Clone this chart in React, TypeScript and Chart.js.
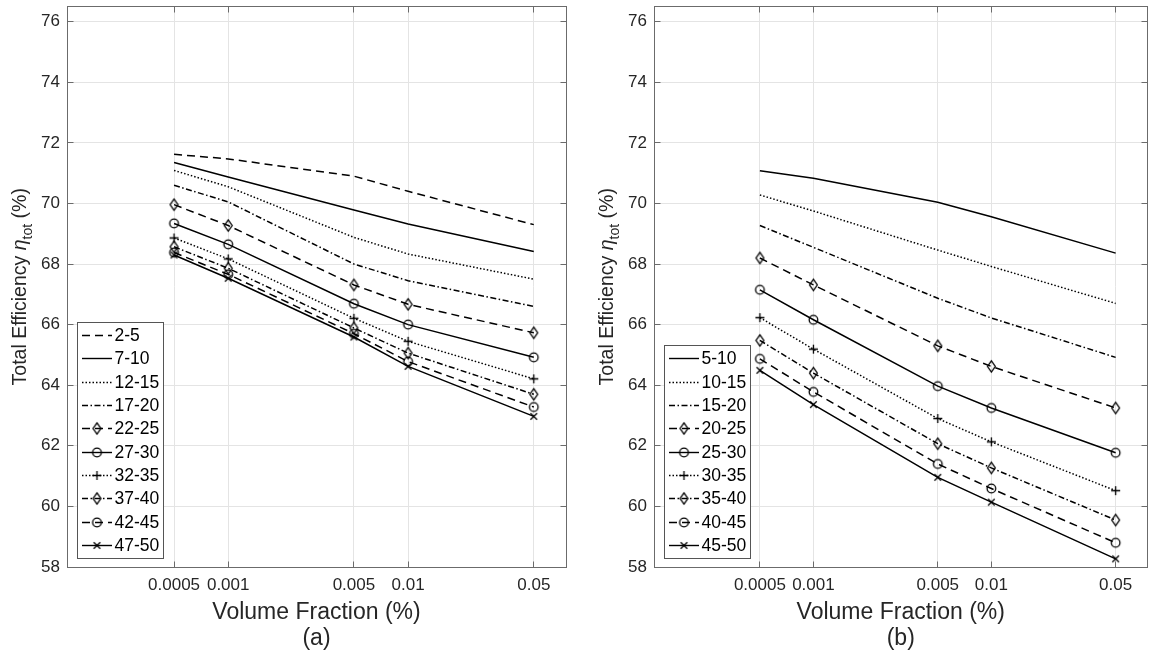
import React, { useEffect, useRef } from 'react';
import { Chart, registerables } from 'chart.js';

Chart.register(...registerables);

// ---------- data ----------
const volumeFraction = [0.0005, 0.001, 0.005, 0.01, 0.05];
const xTickValues = [0.0005, 0.001, 0.005, 0.01, 0.05];
const xTickLabels = ['0.0005', '0.001', '0.005', '0.01', '0.05'];
const yTickValues = [58, 60, 62, 64, 66, 68, 70, 72, 74, 76];

// Panel (a)
const labelsA = ['2-5', '7-10', '12-15', '17-20', '22-25', '27-30', '32-35', '37-40', '42-45', '47-50'];
const effA_2_5 = [71.62, 71.47, 70.9, 70.4, 69.3];
const effA_7_10 = [71.35, 70.87, 69.78, 69.32, 68.41];
const effA_12_15 = [71.09, 70.55, 68.88, 68.33, 67.5];
const effA_17_20 = [70.6, 70.05, 68.0, 67.45, 66.6];
const effA_22_25 = [69.96, 69.27, 67.31, 66.67, 65.73];
const effA_27_30 = [69.34, 68.65, 66.69, 66.0, 64.92];
const effA_32_35 = [68.86, 68.17, 66.21, 65.45, 64.21];
const effA_37_40 = [68.57, 67.86, 65.89, 65.06, 63.7];
const effA_42_45 = [68.38, 67.66, 65.7, 64.78, 63.28];
const effA_47_50 = [68.3, 67.53, 65.59, 64.62, 62.97];
const seriesA = [effA_2_5, effA_7_10, effA_12_15, effA_17_20, effA_22_25, effA_27_30, effA_32_35, effA_37_40, effA_42_45, effA_47_50];

// Panel (b)
const labelsB = ['5-10', '10-15', '15-20', '20-25', '25-30', '30-35', '35-40', '40-45', '45-50'];
const effB_5_10 = [71.08, 70.83, 70.04, 69.56, 68.36];
const effB_10_15 = [70.28, 69.75, 68.46, 67.92, 66.7];
const effB_15_20 = [69.27, 68.55, 66.87, 66.22, 64.92];
const effB_20_25 = [68.2, 67.31, 65.3, 64.62, 63.25];
const effB_25_30 = [67.15, 66.16, 63.97, 63.25, 61.77];
const effB_30_35 = [66.23, 65.19, 62.9, 62.13, 60.52];
const effB_35_40 = [65.48, 64.4, 62.07, 61.27, 59.55];
const effB_40_45 = [64.87, 63.78, 61.4, 60.59, 58.8];
const effB_45_50 = [64.49, 63.36, 60.96, 60.14, 58.27];
const seriesB = [effB_5_10, effB_10_15, effB_15_20, effB_20_25, effB_25_30, effB_30_35, effB_35_40, effB_40_45, effB_45_50];

// ---------- styles ----------
const FAMILY = '"Liberation Sans", Arial, Helvetica, sans-serif';
const TEXT = '#262626';
const FRAME = '#6b6b6b';
const GRID = '#e4e4e4';
const H = 659;
const PLOT_TOP = 6;
const PLOT_BOTTOM = 567;
const X_MIN = 0.000127;
const X_MAX = 0.0755;

const lineDash: Record<string, number[]> = {
  dash: [8, 5],
  solid: [],
  dot: [1.5, 2],
  dashdot: [6, 2.5, 1.5, 2.5],
};

type Style = [string, string | null];
const stylesA: Style[] = [
  ['dash', null], ['solid', null], ['dot', null], ['dashdot', null],
  ['dash', 'diamond'], ['solid', 'circle'], ['dot', 'plus'], ['dashdot', 'diamond'],
  ['dash', 'circle'], ['solid', 'x'],
];
const stylesB: Style[] = stylesA.slice(1);

function buildMarkers(): Record<string, HTMLCanvasElement> {
  const mk = (w: number, h: number, draw: (c: CanvasRenderingContext2D, cx: number, cy: number) => void) => {
    const cv = document.createElement('canvas');
    cv.width = w; cv.height = h;
    const c = cv.getContext('2d')!;
    c.strokeStyle = '#000';
    c.lineWidth = 1.3;
    c.beginPath();
    draw(c, w / 2, h / 2);
    c.stroke();
    return cv;
  };
  return {
    diamond: mk(11, 15, (c, cx, cy) => {
      c.moveTo(cx, cy - 5.6); c.lineTo(cx + 3.9, cy); c.lineTo(cx, cy + 5.6); c.lineTo(cx - 3.9, cy); c.closePath();
    }),
    circle: mk(13, 13, (c, cx, cy) => { c.arc(cx, cy, 4.3, 0, Math.PI * 2); }),
    plus: mk(13, 13, (c, cx, cy) => {
      c.moveTo(cx - 4.5, cy); c.lineTo(cx + 4.5, cy); c.moveTo(cx, cy - 4.5); c.lineTo(cx, cy + 4.5);
    }),
    x: mk(11, 11, (c, cx, cy) => {
      c.moveTo(cx - 3.3, cy - 3.3); c.lineTo(cx + 3.3, cy + 3.3); c.moveTo(cx + 3.3, cy - 3.3); c.lineTo(cx - 3.3, cy + 3.3);
    }),
  };
}

const align = (p: number) => Math.round(p - 0.5) + 0.5;

interface PanelProps {
  labels: string[];
  series: number[][];
  styles: Style[];
  caption: string;
  left: number;
  width: number;
  plotLeft: number;
  plotRight: number;
}

function Panel(props: PanelProps) {
  const ref = useRef<HTMLCanvasElement>(null);
  useEffect(() => {
    const canvas = ref.current!;
    const markers = buildMarkers();
    const datasets = props.series.map((ys, i) => {
      const [lk, mkName] = props.styles[i];
      return {
        label: props.labels[i],
        data: volumeFraction.map((x, j) => ({ x, y: ys[j] })),
        borderColor: '#000',
        borderWidth: 1.5,
        borderDash: lineDash[lk],
        pointStyle: mkName ? markers[mkName] : 'circle',
        pointRadius: mkName ? 5 : 0,
        backgroundColor: 'rgba(0,0,0,0)',
        tension: 0,
        fill: false,
      };
    });

    const decor = {
      id: 'decor',
      afterDraw(chart: any) {
        const ctx: CanvasRenderingContext2D = chart.ctx;
        const { left, right, top, bottom } = chart.chartArea;
        const xs = chart.scales.x;
        const ys = chart.scales.y;
        ctx.save();
        // frame + inward ticks on all sides
        ctx.setLineDash([]);
        ctx.strokeStyle = FRAME;
        ctx.lineWidth = 1;
        const L = align(left), R = align(right), T = align(top), B = align(bottom);
        ctx.strokeRect(L, T, R - L, B - T);
        ctx.beginPath();
        for (const v of xTickValues) {
          const px = align(xs.getPixelForValue(v));
          ctx.moveTo(px, B); ctx.lineTo(px, B - 6);
          ctx.moveTo(px, T); ctx.lineTo(px, T + 6);
        }
        for (const v of yTickValues) {
          const py = align(ys.getPixelForValue(v));
          ctx.moveTo(L, py); ctx.lineTo(L + 6, py);
          ctx.moveTo(R, py); ctx.lineTo(R - 6, py);
        }
        ctx.stroke();

        // legend
        const n = props.labels.length;
        const rowH = 23.3;
        const boxH = n * rowH + 3;
        const boxL = Math.round(left) + 10;
        const boxW = 86;
        const boxB = Math.round(bottom) - 9;
        const boxT = boxB - boxH;
        ctx.fillStyle = '#fff';
        ctx.fillRect(boxL, boxT, boxW, boxH);
        ctx.strokeStyle = '#555';
        ctx.strokeRect(boxL + 0.5, Math.round(boxT) + 0.5, boxW, Math.round(boxH));
        ctx.font = `17.5px ${FAMILY}`;
        ctx.textBaseline = 'middle';
        ctx.textAlign = 'left';
        for (let i = 0; i < n; i++) {
          const cy = Math.round(boxT + 1.5 + rowH * (i + 0.5)) + 0.5;
          const [lk, mkName] = props.styles[i];
          ctx.strokeStyle = '#000';
          ctx.lineWidth = 1.4;
          ctx.setLineDash(lineDash[lk]);
          ctx.beginPath();
          ctx.moveTo(boxL + 5, cy);
          ctx.lineTo(boxL + 35, cy);
          ctx.stroke();
          ctx.setLineDash([]);
          if (mkName) {
            const m = markers[mkName];
            ctx.drawImage(m, boxL + 20 - m.width / 2, cy - m.height / 2);
          }
          ctx.fillStyle = '#000';
          ctx.fillText(props.labels[i], boxL + 37.5, cy + 1);
        }

        // axis titles
        ctx.fillStyle = TEXT;
        ctx.textAlign = 'center';
        ctx.textBaseline = 'alphabetic';
        const cx = (left + right) / 2;
        ctx.font = `23px ${FAMILY}`;
        ctx.fillText('Volume Fraction (%)', cx, bottom + 52);
        ctx.fillText(props.caption, cx, bottom + 78);

        // y title with italic eta and subscript
        const fs = 19.5;
        const parts = [
          { t: 'Total Efficiency ', f: `${fs}px ${FAMILY}`, dy: 0 },
          { t: 'η', f: `italic ${fs}px ${FAMILY}`, dy: 0 },
          { t: 'tot', f: `${fs * 0.72}px ${FAMILY}`, dy: fs * 0.28 },
          { t: ' (%)', f: `${fs}px ${FAMILY}`, dy: 0 },
        ];
        ctx.save();
        ctx.translate(left - 40.6, (top + bottom) / 2);
        ctx.rotate(-Math.PI / 2);
        ctx.textAlign = 'left';
        let total = 0;
        const widths = parts.map((p) => { ctx.font = p.f; const w = ctx.measureText(p.t).width; total += w; return w; });
        let x = -total / 2;
        parts.forEach((p, i) => { ctx.font = p.f; ctx.fillText(p.t, x, p.dy); x += widths[i]; });
        ctx.restore();

        ctx.restore();
      },
    };

    const chart = new Chart(canvas, {
      type: 'line',
      data: { datasets } as any,
      options: {
        animation: false,
        responsive: false,
        devicePixelRatio: 1,
        events: [],
        layout: { padding: { left: 0, top: PLOT_TOP, right: props.width - props.plotRight, bottom: 0 } },
        plugins: { legend: { display: false }, tooltip: { enabled: false } },
        scales: {
          x: {
            type: 'logarithmic',
            position: 'bottom',
            min: X_MIN,
            max: X_MAX,
            afterBuildTicks: (s: any) => { s.ticks = xTickValues.map((v) => ({ value: v })); },
            afterFit: (s: any) => {
              s.height = H - PLOT_BOTTOM;
              s.paddingLeft = 0; s.paddingRight = 0; s.paddingTop = 0; s.paddingBottom = 0;
            },
            grid: { color: GRID, lineWidth: 1, drawTicks: false },
            border: { display: false },
            ticks: {
              autoSkip: false, maxRotation: 0, minRotation: 0, padding: 8, color: TEXT,
              font: { family: FAMILY, size: 17 },
              callback: (_v: any, i: number) => xTickLabels[i],
            },
          },
          y: {
            type: 'linear',
            min: 58,
            max: 76.5,
            afterBuildTicks: (s: any) => { s.ticks = yTickValues.map((v) => ({ value: v })); },
            afterFit: (s: any) => {
              s.width = props.plotLeft;
              s.paddingLeft = 0; s.paddingRight = 0; s.paddingTop = 0; s.paddingBottom = 0;
            },
            grid: { color: GRID, lineWidth: 1, drawTicks: false },
            border: { display: false },
            ticks: {
              padding: 7, color: TEXT,
              font: { family: FAMILY, size: 17 },
              callback: (v: any) => String(v),
            },
          },
        },
      } as any,
      plugins: [decor],
    });
    return () => chart.destroy();
  }, []);
  return (
    <canvas
      ref={ref}
      width={props.width}
      height={H}
      style={{ position: 'absolute', left: props.left, top: 0, width: props.width, height: H }}
    />
  );
}

export default function App() {
  return (
    <div style={{ position: 'absolute', left: 0, top: 0, width: 1154, height: H, background: '#fff' }}>
      <Panel labels={labelsA} series={seriesA} styles={stylesA} caption="(a)" left={0} width={577} plotLeft={67} plotRight={566} />
      <Panel labels={labelsB} series={seriesB} styles={stylesB} caption="(b)" left={577} width={577} plotLeft={77} plotRight={576} />
    </div>
  );
}
